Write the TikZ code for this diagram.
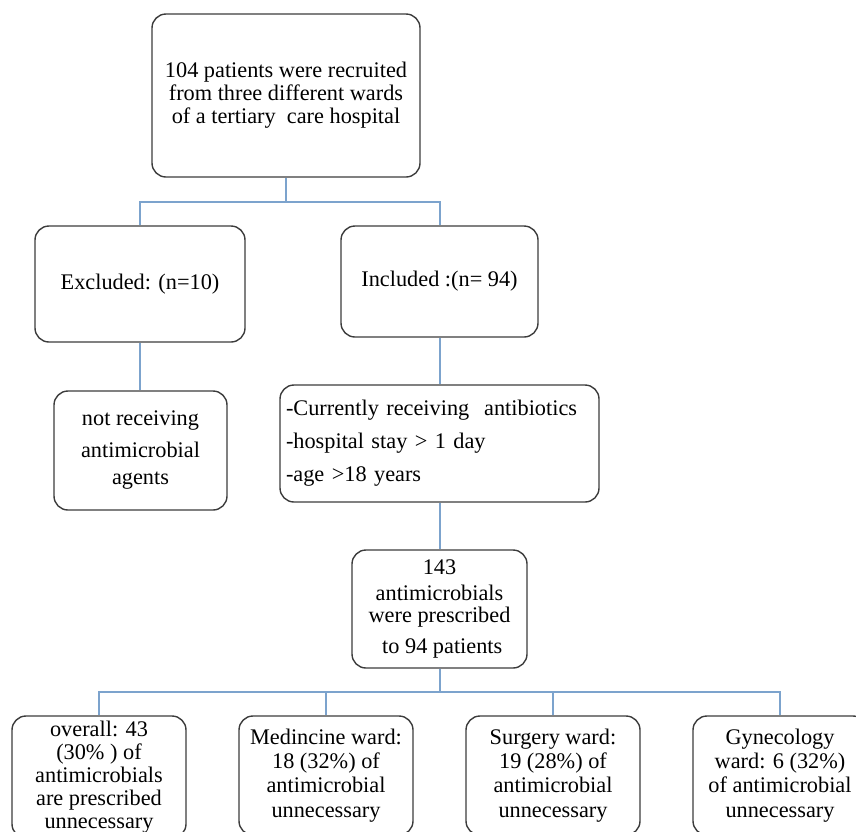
\documentclass[tikz,border=0pt]{standalone}
\usepackage{fontspec}
\setmainfont{Liberation Serif}
\definecolor{boxgray}{RGB}{60,60,60}
\definecolor{linkblue}{RGB}{124,163,205}
\newcommand{\myfs}[1]{\fontsize{22.3}{#1}\selectfont}
\begin{document}
\begin{tikzpicture}[x=1pt,y=-1pt,
  box/.style={draw=boxgray, line width=1.4pt, rounded corners=14pt, fill=white,
    align=center, inner sep=0pt, font=\myfs{23}},
  link/.style={draw=linkblue, line width=2pt}]
\useasboundingbox (0,0) rectangle (856,831);
\clip (0,0) rectangle (856,831);
\fill[white] (0,0) rectangle (856,831);

\node[box, minimum width=268, minimum height=163] (top) at (286,95.5)
  {104 patients were recruited\\from three different wards\\of a tertiary\ \ care hospital};
\node[box, minimum width=210, minimum height=116] (excl) at (140,284) {Excluded: (n=10)};
\node[box, minimum width=197, minimum height=111] (incl) at (439.5,281.5) {Included :(n= 94)};
\node[box, minimum width=173, minimum height=119] (notrec) at (140.5,450.5)
  {not receiving\\[9pt]antimicrobial\\[4pt]agents};
\node[box, text width=307, inner xsep=6pt, minimum height=117, align=left] (crit) at (439.5,443.5)
  {-Currently receiving\ \ antibiotics\\[10pt]-hospital stay > 1 day\\[10pt]-age >18 years};
\node[box, minimum width=175, minimum height=118, font=\myfs{22}] (n143) at (439.5,609)
  {143\\[4pt]antimicrobials\\were prescribed\\[9pt]\ to 94 patients};

\node[box, minimum width=174, minimum height=122] (ov) at (99,777)
  {overall: 43\\(30\% ) of\\antimicrobials\\are prescribed\\unnecessary};
\node[box, minimum width=174, minimum height=119, font=\myfs{24.3}] (med) at (326,775.5)
  {Medincine ward:\\18 (32\%) of\\antimicrobial\\unnecessary};
\node[box, minimum width=174, minimum height=119, font=\myfs{24.3}] (sur) at (553,775.5)
  {Surgery ward:\\19 (28\%) of\\antimicrobial\\unnecessary};
\node[box, minimum width=174, minimum height=119, font=\myfs{24.3}] (gyn) at (780,775.5)
  {Gynecology\\ward: 6 (32\%)\\of antimicrobial\\unnecessary};

\draw[link] (top.south) -- ++(0,24) coordinate (j1);
\draw[link] (excl.north) |- (j1) -| (incl.north);
\draw[link] (excl.south) -- (excl.south |- notrec.north);
\draw[link] (incl.south) -- (crit.north);
\draw[link] (crit.south) -- (n143.north);
\draw[link] (n143.south) -- ++(0,23) coordinate (j2);
\draw[link] (ov.north) |- (j2) -| (gyn.north);
\draw[link] (med.north) -- (med.north |- j2);
\draw[link] (sur.north) -- (sur.north |- j2);
\end{tikzpicture}
\end{document}
